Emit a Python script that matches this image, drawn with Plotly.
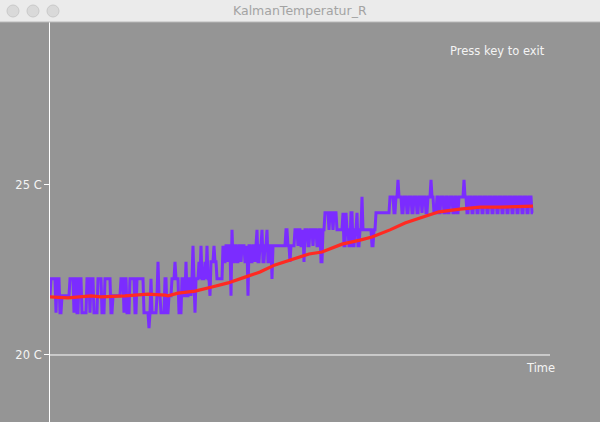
import plotly.graph_objects as go

# ---- data (temperature in deg C, time in samples) ----
# raw (noisy) sensor readings, stored as runs: level and the sample where the run ends
raw_level = [
    # segment 1
    21.74, 22.24, 21.24, 22.24, 21.24, 21.74, 22.24, 21.24, 22.24, 21.24, 22.24, 21.24,
    22.24, 21.24, 22.24, 21.24, 22.24, 21.24, 22.24, 21.24, 21.74, 22.24, 21.24, 22.24,
    21.24, 22.24, 21.24, 22.24, 21.24, 20.79, 21.24, 22.24,
    # segment 2
    21.24, 21.74, 22.74, 21.74, 21.24, 22.24, 21.24, 21.74, 22.24, 22.74, 22.24, 21.24,
    22.24, 21.74, 22.74, 21.74, 22.24, 21.74, 22.24, 23.21, 22.24, 21.24, 22.24, 22.74,
    22.24, 23.21, 22.24, 22.74, 22.24, 23.21, 22.24, 21.74, 22.74, 23.21, 22.74, 22.24,
    23.21, 22.74, 23.21, 22.74, 23.21, 21.74, 23.68, 22.74, 23.21, 22.74, 23.21, 22.74,
    23.21, 22.74,
    # segment 3
    23.21, 21.74, 23.21, 22.74, 23.21, 22.74, 23.21, 23.68, 22.74, 23.21, 23.68, 22.74,
    23.21, 23.68, 22.74, 23.21, 22.24, 23.21, 23.68, 23.21, 22.74, 23.21, 23.68, 23.21,
    23.68, 23.21, 23.68, 22.74, 23.68, 23.21, 23.68, 23.21, 23.68, 23.21, 23.68, 22.74,
    23.68, 24.18, 23.68, 24.18, 23.68, 24.18, 23.68,
    # segment 4
    24.18, 23.21, 24.18, 23.68, 23.21, 24.18, 23.21, 23.68, 24.18, 23.21, 23.68, 24.65,
    23.68, 23.21, 23.68, 24.18,
    # segment 5
    24.65, 24.18, 24.65, 25.15, 24.65, 24.18, 24.65, 24.18, 24.65, 24.18, 24.65, 24.18,
    24.65, 24.18, 24.65, 24.18, 24.65, 25.15, 24.65, 24.18, 24.65, 24.18, 24.65, 24.18,
    24.65, 24.18, 24.65, 24.18, 24.65, 24.18, 24.65, 25.15, 24.65,
    24.18, 24.65, 24.18, 24.65, 24.18, 24.65, 24.18, 24.65, 24.18, 24.65, 24.18, 24.65,
    24.18, 24.65, 24.18, 24.65, 24.18, 24.65, 24.18, 24.65, 24.18, 24.65, 24.18, 24.65,
    24.18, 24.65, 24.18,
]
raw_end = [
    # segment 1
    0, 5, 6, 9, 11, 19, 23, 24, 26, 28, 31, 36,
    39, 40, 43, 47, 51, 54, 60, 62, 70, 73, 74, 76,
    79, 84, 86, 93, 98, 99, 100, 101,
    # segment 2
    106, 107, 108, 110, 114, 116, 118, 121, 124, 125, 128, 131,
    133, 135, 136, 138, 140, 141, 142, 143, 144, 145, 148, 149,
    150, 151, 154, 155, 156, 157, 159, 160, 163, 164, 166, 172,
    173, 175, 177, 178, 180, 181, 182, 184, 186, 188, 190, 191,
    194, 196,
    # segment 3
    197, 198, 200, 202, 204, 205, 206, 207, 209, 211, 212, 214,
    216, 217, 219, 221, 222, 235, 237, 239, 240, 244, 247, 248,
    250, 252, 253, 254, 257, 259, 262, 263, 266, 268, 270, 272,
    274, 278, 279, 282, 283, 286, 292,
    # segment 4
    293, 295, 296, 298, 300, 302, 304, 306, 307, 309, 311, 312,
    321, 323, 325, 339,
    # segment 5
    343, 345, 347, 348, 351, 353, 356, 358, 361, 363, 366, 368,
    371, 372, 375, 377, 380, 381, 383, 386, 388, 390, 393, 395,
    397, 399, 402, 404, 406, 408, 413, 414, 416,
    418, 421, 423, 426, 428, 431, 433, 436, 438, 441, 443, 446,
    448, 451, 453, 456, 458, 461, 463, 466, 468, 471, 473, 476,
    478, 481, 483,
]

# Kalman-filtered estimate
kalman_time = [0, 18, 41, 51, 75, 98, 115, 118, 128, 145, 162, 178, 195, 210, 225,
               240, 259, 272, 292, 310, 322, 340, 355, 370, 389, 410, 430, 450, 483]
kalman_temp = [21.71, 21.68, 21.74, 21.71, 21.74, 21.79, 21.76, 21.74, 21.82, 21.88,
               22.00, 22.12, 22.29, 22.44, 22.65, 22.79, 22.97, 23.03, 23.26, 23.38,
               23.47, 23.68, 23.88, 24.03, 24.21, 24.29, 24.35, 24.35, 24.38]

tick_vals = [20, 25]
tick_text = ["20 C", "25 C"]

# ---- build raw polyline from runs ----
raw_x, raw_y = [], []
start = 0
for lvl, end in zip(raw_level, raw_end):
    raw_x.append(start)
    raw_y.append(lvl)
    if end > start:
        raw_x.append(end)
        raw_y.append(lvl)
    start = end + 1

W, H = 600, 422
ML = 50                 # left margin (plot area starts here)
PW = W - ML             # plot area width
BG = "#959595"
Y_RANGE = [18.029, 30.441]
FONT = "DejaVu Sans"


def px_x(px):
    """window pixel x -> paper x (paper is relative to plot area)"""
    return (px - ML) / PW


def px_y(py):
    return 1 - py / H


fig = go.Figure()
fig.add_trace(go.Scatter(x=raw_x, y=raw_y, mode="lines",
                         line=dict(color="#7B2CFF", width=3), hoverinfo="skip"))
fig.add_trace(go.Scatter(x=kalman_time, y=kalman_temp, mode="lines",
                         line=dict(color="#FF2A22", width=3.2), hoverinfo="skip"))

shapes = [
    # time axis
    dict(type="line", xref="x", yref="y", x0=0, x1=500, y0=20, y1=20,
         line=dict(color="white", width=1), layer="below"),
    # window title bar
    dict(type="rect", xref="paper", yref="paper", x0=px_x(0), x1=px_x(W),
         y0=px_y(22), y1=px_y(0),
         fillcolor="#EBEBEB", line=dict(width=0), layer="above"),
    dict(type="line", xref="paper", yref="paper", x0=px_x(0), x1=px_x(W),
         y0=px_y(22), y1=px_y(22),
         line=dict(color="#B8B8B8", width=1), layer="above"),
]
for cx in (13, 33, 53):
    shapes.append(dict(type="circle", xref="paper", yref="paper",
                       x0=px_x(cx - 6), x1=px_x(cx + 6),
                       y0=px_y(17), y1=px_y(5),
                       fillcolor="#D9D9D9", line=dict(color="#C9C9C9", width=1),
                       layer="above"))

annotations = [
    dict(text="KalmanTemperatur_R", xref="paper", yref="paper", x=px_x(300), y=px_y(11),
         xanchor="center", yanchor="middle", showarrow=False,
         font=dict(family=FONT, size=12.5, color="#A3A3A3")),
    dict(text="Press key to exit", xref="x", yref="y", x=398, y=28.94,
         xanchor="left", yanchor="middle", showarrow=False,
         font=dict(family=FONT, size=11.5, color="#F4F4F4")),
    dict(text="Time", xref="x", yref="y", x=474, y=19.62,
         xanchor="left", yanchor="middle", showarrow=False,
         font=dict(family=FONT, size=11.5, color="#F4F4F4")),
]

fig.update_layout(
    width=W, height=H,
    margin=dict(l=ML, r=0, t=0, b=0),
    paper_bgcolor=BG, plot_bgcolor=BG,
    showlegend=False,
    shapes=shapes, annotations=annotations,
    xaxis=dict(range=[0, PW], visible=False, fixedrange=True),
    yaxis=dict(range=Y_RANGE, showgrid=False, zeroline=False,
               showline=True, linecolor="white", linewidth=1,
               ticks="outside", ticklen=5, tickcolor="white", tickwidth=1,
               tickvals=tick_vals, ticktext=tick_text,
               tickfont=dict(family=FONT, size=11.5, color="#F4F4F4"),
               automargin=False, fixedrange=True),
)

fig.write_html("out.html", config={"displayModeBar": False},
               post_script="document.body.style.margin='0px';document.body.style.overflow='hidden';")
